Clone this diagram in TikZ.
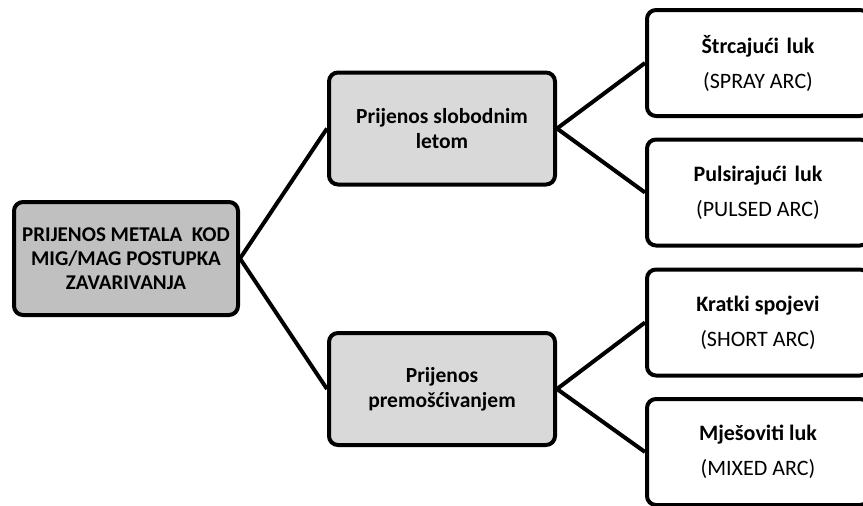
\documentclass[tikz,border=0pt]{standalone}
\usepackage{fontspec}
\setmainfont{Carlito}
\usetikzlibrary{positioning}
\definecolor{rootgray}{HTML}{C0C0C0}
\definecolor{midgray}{HTML}{D9D9D9}
\tikzset{
  box/.style={draw=black, line width=4pt, rounded corners=9pt, align=center, inner sep=0pt},
  rootbox/.style={box, fill=rootgray, minimum width=224pt, minimum height=113pt,
    font=\bfseries\fontsize{21}{24}\selectfont},
  midbox/.style={box, fill=midgray, minimum width=226pt, minimum height=112pt,
    font=\bfseries\fontsize{21.5}{25}\selectfont},
  leafbox/.style={box, fill=white, minimum width=222pt, minimum height=106pt,
    font=\fontsize{22}{24}\selectfont},
  link/.style={line width=4pt}
}

\begin{document}
\begin{tikzpicture}[x=1pt, y=-1pt]
      \clip (0, 0) rectangle (863, 506);
      \fill[white] (0, 0) rectangle (863, 506);
      % root
      \node[rootbox] (root) at (126, 258.5) {PRIJENOS METALA\hspace{0.45em}KOD\\MIG/MAG POSTUPKA\\ZAVARIVANJA};
      % two kinds of transfer
      \node[midbox] (free) at (442, 128.5) {Prijenos slobodnim\\letom};
      \node[midbox] (bridge) at (442, 389) {Prijenos\\premošćivanjem};
      % arcs
      \node[leafbox] (spray) at (758, 63) {\textbf{Štrcajući\hspace{0.35em}luk}\\[11pt](SPRAY ARC)};
      \node[leafbox] (pulsed) at (758, 192.5) {\textbf{Pulsirajući\hspace{0.35em}luk}\\[11pt](PULSED ARC)};
      \node[leafbox] (short) at (758, 322.5) {\textbf{Kratki spojevi}\\[11pt](SHORT ARC)};
      \node[leafbox] (mixed) at (758, 452) {\textbf{Mješoviti luk}\\[11pt](MIXED ARC)};
      \draw[link] (root.east) -- (free.west);
      \draw[link] (root.east) -- (bridge.west);
      \draw[link] (free.east) -- (spray.west);
      \draw[link] (free.east) -- (pulsed.west);
      \draw[link] (bridge.east) -- (short.west);
      \draw[link] (bridge.east) -- (mixed.west);
\end{tikzpicture}
\end{document}
